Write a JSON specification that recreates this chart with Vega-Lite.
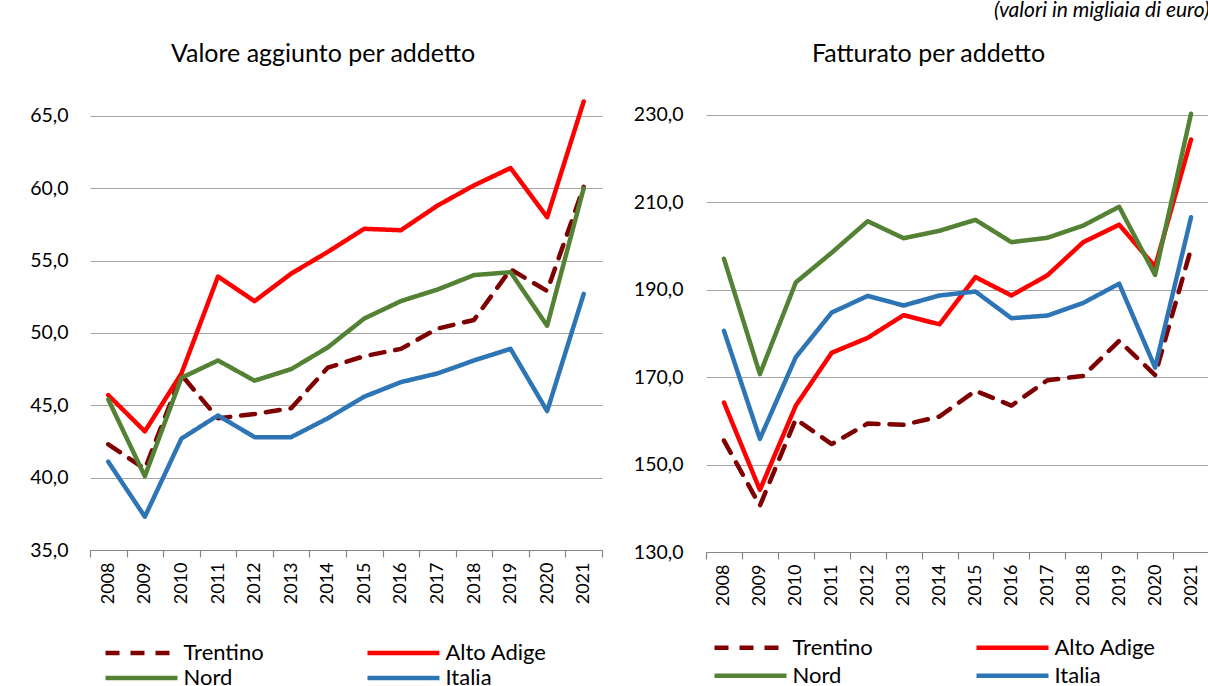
{
  "$schema": "https://vega.github.io/schema/vega-lite/v6.json",
  "background": "white",
  "padding": {"left": 28, "top": 0, "right": 0, "bottom": 0},
  "title": {"text": "(valori in migliaia di euro)", "anchor": "end", "frame": "bounds", "fontStyle": "italic", "fontWeight": "normal", "fontSize": 21, "font": "Lato", "color": "#000", "offset": 21},
  "config": {
    "font": "Lato",
    "view": {"stroke": null},
    "title": {"font": "Lato", "fontSize": 25, "fontWeight": "normal", "color": "#000", "anchor": "middle", "frame": "group", "offset": 32},
    "axisX": {"title": null, "labelAngle": 270, "labelFontSize": 18, "labelFont": "Lato", "labelColor": "#000", "domainColor": "#868686", "domainWidth": 1.2, "tickColor": "#868686", "tickWidth": 1.2, "tickSize": 7, "tickBand": "extent", "labelPadding": 5, "grid": false},
    "axisY": {"title": null, "domain": false, "ticks": false, "grid": true, "gridColor": "#a6a6a6", "gridWidth": 1.2, "labelFontSize": 19.5, "labelFont": "Lato", "labelColor": "#000", "labelExpr": "replace(format(datum.value, '.1f'), '.', ',')"},
    "legend": {"orient": "none", "direction": "horizontal", "columns": 2, "symbolType": "M-4.5,0H4.5", "symbolSize": 256, "symbolStrokeWidth": 4.5, "labelFontSize": 22, "labelFont": "Lato", "labelColor": "#000", "labelOffset": 31, "columnPadding": 94, "labelLimit": 300, "padding": 0}
  },
  "spacing": 30,
  "resolve": {"scale": {"y": "independent", "color": "independent", "strokeDash": "independent"}, "legend": {"color": "independent", "strokeDash": "independent"}},
  "hconcat": [
    {
      "width": 512,
      "height": 451,
      "title": {"text": "Valore aggiunto per addetto", "dx": -23},
      "data": {"values": [
        {"y": "2008", "s": "Trentino", "v": 42.3}, {"y": "2009", "s": "Trentino", "v": 40.6}, {"y": "2010", "s": "Trentino", "v": 47.1}, {"y": "2011", "s": "Trentino", "v": 44.1}, {"y": "2012", "s": "Trentino", "v": 44.4}, {"y": "2013", "s": "Trentino", "v": 44.8}, {"y": "2014", "s": "Trentino", "v": 47.6}, {"y": "2015", "s": "Trentino", "v": 48.4}, {"y": "2016", "s": "Trentino", "v": 48.9}, {"y": "2017", "s": "Trentino", "v": 50.3}, {"y": "2018", "s": "Trentino", "v": 50.9}, {"y": "2019", "s": "Trentino", "v": 54.4}, {"y": "2020", "s": "Trentino", "v": 52.9}, {"y": "2021", "s": "Trentino", "v": 60.1},
        {"y": "2008", "s": "Alto Adige", "v": 45.7}, {"y": "2009", "s": "Alto Adige", "v": 43.2}, {"y": "2010", "s": "Alto Adige", "v": 47.2}, {"y": "2011", "s": "Alto Adige", "v": 53.9}, {"y": "2012", "s": "Alto Adige", "v": 52.2}, {"y": "2013", "s": "Alto Adige", "v": 54.1}, {"y": "2014", "s": "Alto Adige", "v": 55.6}, {"y": "2015", "s": "Alto Adige", "v": 57.2}, {"y": "2016", "s": "Alto Adige", "v": 57.1}, {"y": "2017", "s": "Alto Adige", "v": 58.8}, {"y": "2018", "s": "Alto Adige", "v": 60.2}, {"y": "2019", "s": "Alto Adige", "v": 61.4}, {"y": "2020", "s": "Alto Adige", "v": 58.0}, {"y": "2021", "s": "Alto Adige", "v": 66.0},
        {"y": "2008", "s": "Nord", "v": 45.4}, {"y": "2009", "s": "Nord", "v": 40.1}, {"y": "2010", "s": "Nord", "v": 46.9}, {"y": "2011", "s": "Nord", "v": 48.1}, {"y": "2012", "s": "Nord", "v": 46.7}, {"y": "2013", "s": "Nord", "v": 47.5}, {"y": "2014", "s": "Nord", "v": 49.0}, {"y": "2015", "s": "Nord", "v": 51.0}, {"y": "2016", "s": "Nord", "v": 52.2}, {"y": "2017", "s": "Nord", "v": 53.0}, {"y": "2018", "s": "Nord", "v": 54.0}, {"y": "2019", "s": "Nord", "v": 54.2}, {"y": "2020", "s": "Nord", "v": 50.5}, {"y": "2021", "s": "Nord", "v": 60.0},
        {"y": "2008", "s": "Italia", "v": 41.1}, {"y": "2009", "s": "Italia", "v": 37.3}, {"y": "2010", "s": "Italia", "v": 42.7}, {"y": "2011", "s": "Italia", "v": 44.3}, {"y": "2012", "s": "Italia", "v": 42.8}, {"y": "2013", "s": "Italia", "v": 42.8}, {"y": "2014", "s": "Italia", "v": 44.1}, {"y": "2015", "s": "Italia", "v": 45.6}, {"y": "2016", "s": "Italia", "v": 46.6}, {"y": "2017", "s": "Italia", "v": 47.2}, {"y": "2018", "s": "Italia", "v": 48.1}, {"y": "2019", "s": "Italia", "v": 48.9}, {"y": "2020", "s": "Italia", "v": 44.6}, {"y": "2021", "s": "Italia", "v": 52.7}
      ]},
      "mark": {"type": "line", "strokeWidth": 4.5, "strokeCap": "round", "strokeJoin": "round"},
      "encoding": {
        "x": {"field": "y", "type": "ordinal", "bandPosition": 0.5, "scale": {"type": "band", "paddingInner": 0, "paddingOuter": 0}},
        "y": {"field": "v", "type": "quantitative", "scale": {"domain": [35, 66.17], "zero": false, "nice": false}, "axis": {"values": [35, 40, 45, 50, 55, 60, 65], "labelPadding": 22, "minExtent": 62, "maxExtent": 62}},
        "color": {"field": "s", "type": "nominal", "scale": {"domain": ["Trentino", "Alto Adige", "Nord", "Italia"], "range": ["#7f0000", "#ff0000", "#548235", "#2e75b6"]}, "legend": {"title": null, "legendX": 40.5, "legendY": 543, "rowPadding": 3}},
        "strokeDash": {"field": "s", "type": "nominal", "scale": {"domain": ["Trentino", "Alto Adige", "Nord", "Italia"], "range": [[14, 11], [1, 0], [1, 0], [1, 0]]}, "legend": {"title": null, "legendX": 40.5, "legendY": 543, "rowPadding": 3}}
      }
    },
    {
      "width": 503,
      "height": 453,
      "title": {"text": "Fatturato per addetto", "dx": -29},
      "data": {"values": [
        {"y": "2008", "s": "Trentino", "v": 155.5}, {"y": "2009", "s": "Trentino", "v": 140.6}, {"y": "2010", "s": "Trentino", "v": 160.4}, {"y": "2011", "s": "Trentino", "v": 154.7}, {"y": "2012", "s": "Trentino", "v": 159.4}, {"y": "2013", "s": "Trentino", "v": 159.1}, {"y": "2014", "s": "Trentino", "v": 161.0}, {"y": "2015", "s": "Trentino", "v": 166.9}, {"y": "2016", "s": "Trentino", "v": 163.5}, {"y": "2017", "s": "Trentino", "v": 169.3}, {"y": "2018", "s": "Trentino", "v": 170.3}, {"y": "2019", "s": "Trentino", "v": 178.3}, {"y": "2020", "s": "Trentino", "v": 170.5}, {"y": "2021", "s": "Trentino", "v": 199.4},
        {"y": "2008", "s": "Alto Adige", "v": 164.2}, {"y": "2009", "s": "Alto Adige", "v": 144.2}, {"y": "2010", "s": "Alto Adige", "v": 163.5}, {"y": "2011", "s": "Alto Adige", "v": 175.6}, {"y": "2012", "s": "Alto Adige", "v": 179.0}, {"y": "2013", "s": "Alto Adige", "v": 184.2}, {"y": "2014", "s": "Alto Adige", "v": 182.1}, {"y": "2015", "s": "Alto Adige", "v": 192.9}, {"y": "2016", "s": "Alto Adige", "v": 188.7}, {"y": "2017", "s": "Alto Adige", "v": 193.3}, {"y": "2018", "s": "Alto Adige", "v": 200.9}, {"y": "2019", "s": "Alto Adige", "v": 204.9}, {"y": "2020", "s": "Alto Adige", "v": 195.3}, {"y": "2021", "s": "Alto Adige", "v": 224.4},
        {"y": "2008", "s": "Nord", "v": 197.1}, {"y": "2009", "s": "Nord", "v": 170.7}, {"y": "2010", "s": "Nord", "v": 191.7}, {"y": "2011", "s": "Nord", "v": 198.5}, {"y": "2012", "s": "Nord", "v": 205.7}, {"y": "2013", "s": "Nord", "v": 201.8}, {"y": "2014", "s": "Nord", "v": 203.5}, {"y": "2015", "s": "Nord", "v": 206.0}, {"y": "2016", "s": "Nord", "v": 200.9}, {"y": "2017", "s": "Nord", "v": 201.9}, {"y": "2018", "s": "Nord", "v": 204.7}, {"y": "2019", "s": "Nord", "v": 209.0}, {"y": "2020", "s": "Nord", "v": 193.4}, {"y": "2021", "s": "Nord", "v": 230.3},
        {"y": "2008", "s": "Italia", "v": 180.6}, {"y": "2009", "s": "Italia", "v": 155.9}, {"y": "2010", "s": "Italia", "v": 174.6}, {"y": "2011", "s": "Italia", "v": 184.8}, {"y": "2012", "s": "Italia", "v": 188.6}, {"y": "2013", "s": "Italia", "v": 186.4}, {"y": "2014", "s": "Italia", "v": 188.7}, {"y": "2015", "s": "Italia", "v": 189.6}, {"y": "2016", "s": "Italia", "v": 183.5}, {"y": "2017", "s": "Italia", "v": 184.1}, {"y": "2018", "s": "Italia", "v": 187.0}, {"y": "2019", "s": "Italia", "v": 191.4}, {"y": "2020", "s": "Italia", "v": 172.2}, {"y": "2021", "s": "Italia", "v": 206.6}
      ]},
      "mark": {"type": "line", "strokeWidth": 4.5, "strokeCap": "round", "strokeJoin": "round"},
      "encoding": {
        "x": {"field": "y", "type": "ordinal", "bandPosition": 0.5, "scale": {"type": "band", "paddingInner": 0, "paddingOuter": 0}},
        "y": {"field": "v", "type": "quantitative", "scale": {"domain": [130, 233.66], "zero": false, "nice": false}, "axis": {"values": [130, 150, 170, 190, 210, 230], "labelPadding": 23, "minExtent": 73, "maxExtent": 73}},
        "color": {"field": "s", "type": "nominal", "scale": {"domain": ["Trentino", "Alto Adige", "Nord", "Italia"], "range": ["#7f0000", "#ff0000", "#548235", "#2e75b6"]}, "legend": {"title": null, "legendX": 33.5, "legendY": 537.7, "rowPadding": 6}},
        "strokeDash": {"field": "s", "type": "nominal", "scale": {"domain": ["Trentino", "Alto Adige", "Nord", "Italia"], "range": [[14, 11], [1, 0], [1, 0], [1, 0]]}, "legend": {"title": null, "legendX": 33.5, "legendY": 537.7, "rowPadding": 6}}
      }
    }
  ]
}
